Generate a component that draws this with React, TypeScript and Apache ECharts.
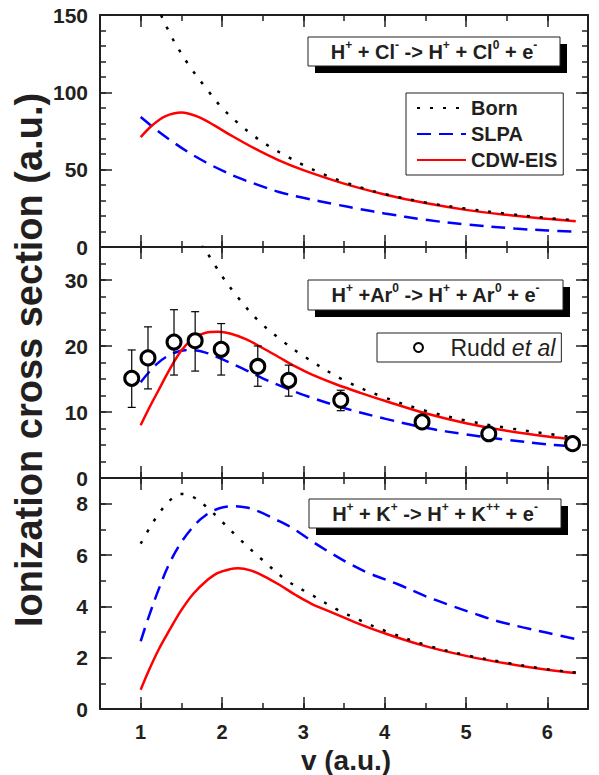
import React, { useEffect, useRef } from 'react';
import * as echarts from 'echarts';

const FONT = '"Liberation Sans", Arial, Helvetica, sans-serif';
const INK = '#231f20';

// x axis (v in a.u.)
const xMin = 0.5;
const xMax = 6.5;
const xMinorStep = 0.5;
const xMajorTicks = [1, 2, 3, 4, 5, 6];

// Panel 1: H+ + Cl-
const clBorn = [[1.25, 150], [1.4, 134], [1.6, 117], [1.8, 103], [2.0, 90], [2.2, 80], [2.4, 71.5], [2.6, 64.5], [2.8, 58.5], [3.0, 53], [3.25, 47], [3.5, 42], [3.75, 37.8], [4.0, 34.2], [4.5, 28.8], [5.0, 24.8], [5.5, 21.5], [6.0, 18.8], [6.35, 17.2]];
const clSlpa = [[1.0, 84], [1.2, 75.5], [1.4, 67.8], [1.6, 60.8], [1.8, 54.8], [2.0, 49.5], [2.2, 44.8], [2.45, 40.0], [2.7, 35.6], [3.0, 31.8], [3.4, 27.5], [3.7, 24.5], [4.0, 21.7], [4.5, 17.6], [5.0, 14.6], [5.6, 11.9], [6.0, 10.7], [6.35, 9.9]];
const clCdw = [[1.0, 71], [1.15, 79], [1.3, 84.5], [1.5, 87], [1.7, 84.3], [1.9, 78.8], [2.1, 72.5], [2.4, 63.7], [2.7, 56], [3.0, 49.7], [3.5, 41], [4.0, 34], [4.5, 28.4], [5.0, 24], [5.5, 20.8], [6.0, 18.2], [6.35, 16.6]];

// Panel 2: H+ + Ar0
const arBorn = [[1.75, 35.5], [2.0, 30.6], [2.2, 27.3], [2.45, 23.8], [2.75, 20.7], [3.0, 18.5], [3.5, 14.8], [4.0, 12.2], [4.5, 10.2], [5.0, 8.7], [5.5, 7.6], [6.0, 6.7], [6.35, 6.1]];
const arSlpa = [[1.0, 14.5], [1.2, 17.3], [1.4, 18.9], [1.6, 19.4], [1.8, 19.0], [2.0, 18.0], [2.25, 16.6], [2.5, 15.1], [2.75, 13.8], [3.0, 12.6], [3.5, 10.6], [4.0, 9.0], [4.5, 7.6], [5.0, 6.6], [5.5, 5.8], [6.0, 5.1], [6.35, 4.75]];
const arCdw = [[1.0, 8.0], [1.1, 10.5], [1.22, 13.3], [1.35, 16.3], [1.5, 19.3], [1.65, 21.2], [1.8, 22.0], [1.95, 22.15], [2.1, 21.9], [2.3, 21.0], [2.5, 19.7], [2.7, 18.3], [2.9, 16.9], [3.1, 15.7], [3.4, 14.2], [3.7, 12.9], [4.0, 11.7], [4.5, 9.8], [5.0, 8.3], [5.5, 7.15], [6.0, 6.3], [6.35, 5.85]];

// Rudd et al experimental points
const ruddV = [0.89, 1.09, 1.41, 1.67, 1.99, 2.44, 2.82, 3.46, 4.46, 5.28, 6.31];
const ruddY = [15.1, 18.2, 20.6, 20.8, 19.5, 16.9, 14.8, 11.8, 8.5, 6.7, 5.2];
const ruddLo = [10.7, 13.5, 15.6, 16.2, 15.6, 13.9, 12.4, 10.2, 8.0, 6.3, 4.9];
const ruddHi = [19.4, 22.9, 25.5, 25.2, 23.4, 20.0, 17.1, 13.3, 9.0, 7.1, 5.5];

// Panel 3: H+ + K+
const kBorn = [[1.0, 6.44], [1.1, 7.0], [1.2, 7.5], [1.35, 8.1], [1.5, 8.38], [1.65, 8.25], [1.8, 7.9], [2.0, 7.3], [2.2, 6.67], [2.5, 5.8], [2.8, 5.0], [3.1, 4.45], [3.4, 3.9], [3.7, 3.45], [4.0, 3.05], [4.5, 2.5], [5.0, 2.1], [5.5, 1.8], [6.0, 1.55], [6.35, 1.42]];
const kSlpa = [[1.0, 2.64], [1.1, 3.6], [1.22, 4.65], [1.35, 5.65], [1.5, 6.5], [1.67, 7.19], [1.8, 7.55], [1.95, 7.8], [2.12, 7.9], [2.3, 7.85], [2.45, 7.7], [2.65, 7.4], [2.86, 7.06], [3.1, 6.55], [3.3, 6.15], [3.55, 5.69], [3.8, 5.3], [4.17, 4.85], [4.5, 4.4], [4.78, 4.07], [5.1, 3.72], [5.39, 3.42], [5.7, 3.18], [6.0, 2.97], [6.35, 2.72]];
const kCdw = [[1.0, 0.75], [1.1, 1.5], [1.22, 2.31], [1.35, 3.05], [1.5, 3.85], [1.65, 4.5], [1.8, 4.97], [1.95, 5.3], [2.1, 5.45], [2.2, 5.48], [2.35, 5.4], [2.5, 5.2], [2.7, 4.85], [2.9, 4.45], [3.1, 4.1], [3.4, 3.7], [3.7, 3.3], [4.0, 2.95], [4.5, 2.45], [5.0, 2.07], [5.5, 1.77], [6.0, 1.53], [6.35, 1.4]];

const seriesNames = ['Born', 'SLPA', 'CDW-EIS'];
const ruddName = 'Rudd et al';

const reactionCl = '{n|H}{s|+}{n| + Cl}{s|-}{n| -> H}{s|+}{n| + Cl}{s|0}{n| + e}{s|-}';
const reactionAr = '{n|H}{s|+}{n| +Ar}{s|0}{n| -> H}{s|+}{n| + Ar}{s|0}{n| + e}{s|-}';
const reactionK = '{n|H}{s|+}{n| + K}{s|+}{n| -> H}{s|+}{n| + K}{s|++}{n| + e}{s|-}';

const yTitle = 'Ionization cross section (a.u.)';
const xTitle = 'v (a.u.)';

const panels = [
  { top: 15, height: 232, yMax: 150, yMinor: 10, yMajor: 50, born: clBorn, slpa: clSlpa, cdw: clCdw },
  { top: 247, height: 231, yMax: 35, yMinor: 2.5, yMajor: 10, born: arBorn, slpa: arSlpa, cdw: arCdw },
  { top: 478, height: 231, yMax: 9, yMinor: 1, yMajor: 2, born: kBorn, slpa: kSlpa, cdw: kCdw },
];

const labelStyle = { fontSize: 20, fontWeight: 'bold', fontFamily: FONT, color: INK };

function buildOption() {
  const grids: any[] = [];
  const xAxes: any[] = [];
  const yAxes: any[] = [];
  const series: any[] = [];

  panels.forEach((p, i) => {
    grids.push({ left: 100, width: 488, top: p.top, height: p.height, containLabel: false });
    (['bottom', 'top'] as const).forEach((pos) => {
      xAxes.push({
        gridIndex: i, type: 'value', position: pos, min: xMin, max: xMax, interval: xMinorStep,
        axisLine: { show: true, onZero: false, lineStyle: { color: INK, width: 2 } },
        axisTick: { show: true, inside: true, length: 6, lineStyle: { color: INK, width: 1.5 } },
        axisLabel: pos === 'bottom' && i === 2
          ? { ...labelStyle, margin: 13, formatter: (v: number) => (Number.isInteger(v) ? String(v) : '') }
          : { show: false },
        splitLine: { show: false },
      });
      xAxes.push({
        gridIndex: i, type: 'value', position: pos, min: xMin, max: xMax, interval: xMinorStep,
        axisLine: { show: false, onZero: false },
        axisTick: { show: true, inside: true, length: 12, customValues: xMajorTicks, lineStyle: { color: INK, width: 1.5 } },
        axisLabel: { show: false },
        splitLine: { show: false },
      });
    });
    (['left', 'right'] as const).forEach((pos) => {
      yAxes.push({
        gridIndex: i, type: 'value', position: pos, min: 0, max: p.yMax, interval: p.yMinor,
        axisLine: { show: true, onZero: false, lineStyle: { color: INK, width: 2 } },
        axisTick: { show: true, inside: true, length: 6, lineStyle: { color: INK, width: 1.5 } },
        axisLabel: pos === 'left'
          ? { ...labelStyle, fontSize: 21, margin: 12, formatter: (v: number) => (Math.abs(v % p.yMajor) < 1e-9 ? String(v) : '') }
          : { show: false },
        splitLine: { show: false },
      });
      yAxes.push({
        gridIndex: i, type: 'value', position: pos, min: 0, max: p.yMax, interval: p.yMajor,
        axisLine: { show: false, onZero: false },
        axisTick: { show: true, inside: true, length: 12, lineStyle: { color: INK, width: 1.5 } },
        axisLabel: { show: false },
        splitLine: { show: false },
      });
    });

    const ax = i * 4;
    series.push({
      name: 'SLPA', type: 'line', xAxisIndex: ax, yAxisIndex: ax, data: p.slpa, smooth: 0.35,
      showSymbol: false, symbol: 'none', z: 2,
      lineStyle: { color: '#0000ff', width: 2.5, type: [14, 8] }, itemStyle: { color: '#0000ff' },
    });
    series.push({
      name: 'CDW-EIS', type: 'line', xAxisIndex: ax, yAxisIndex: ax, data: p.cdw, smooth: 0.35,
      showSymbol: false, symbol: 'none', z: 3,
      lineStyle: { color: '#ff0000', width: 2.5, type: 'solid' }, itemStyle: { color: '#ff0000' },
    });
    series.push({
      name: 'Born', type: 'line', xAxisIndex: ax, yAxisIndex: ax, data: p.born, smooth: 0.35,
      showSymbol: false, symbol: 'none', z: 4,
      lineStyle: { color: '#000000', width: 2.5, type: [3, 10] }, itemStyle: { color: '#000000' },
    });
  });

  // Rudd et al error bars and points (panel 2)
  series.push({
    type: 'custom', xAxisIndex: 4, yAxisIndex: 4, z: 5, silent: true,
    data: ruddV.map((v, k) => [v, ruddLo[k], ruddHi[k]]),
    encode: { x: 0, y: [1, 2] },
    renderItem: (params: any, api: any) => {
      const x = api.value(0);
      const lo = api.coord([x, api.value(1)]);
      const hi = api.coord([x, api.value(2)]);
      const w = 4;
      const st = { stroke: '#000', lineWidth: 1.2 };
      return {
        type: 'group',
        children: [
          { type: 'line', shape: { x1: lo[0], y1: lo[1], x2: hi[0], y2: hi[1] }, style: st },
          { type: 'line', shape: { x1: hi[0] - w, y1: hi[1], x2: hi[0] + w, y2: hi[1] }, style: st },
          { type: 'line', shape: { x1: lo[0] - w, y1: lo[1], x2: lo[0] + w, y2: lo[1] }, style: st },
        ],
      };
    },
  });
  series.push({
    name: ruddName, type: 'scatter', xAxisIndex: 4, yAxisIndex: 4, z: 6,
    data: ruddV.map((v, k) => [v, ruddY[k]]),
    symbol: 'circle', symbolSize: 14,
    itemStyle: { color: '#ffffff', borderColor: '#000000', borderWidth: 3, opacity: 1 },
  });

  const rich = {
    n: { fontSize: 20, fontWeight: 'bold', fontFamily: FONT, fill: INK, color: INK, lineHeight: 26 },
    s: { fontSize: 12, fontWeight: 'bold', fontFamily: FONT, fill: INK, color: INK, lineHeight: 11, verticalAlign: 'top' },
  };
  const box = (x: number, y: number, w: number, h: number, text: string) => ({
    type: 'group',
    children: [
      { type: 'rect', shape: { x: x + 7, y: y + 7, width: w, height: h }, style: { fill: '#000' }, z: 10 },
      { type: 'rect', shape: { x, y, width: w, height: h }, style: { fill: '#fff', stroke: INK, lineWidth: 1 }, z: 11 },
      {
        type: 'text', x: x + w / 2, y: y + h / 2, z: 12,
        style: { text, rich, align: 'center', verticalAlign: 'middle', textAlign: 'center', textVerticalAlign: 'middle' },
      },
    ],
  });

  const graphic = [
    box(308, 37, 252, 29, reactionCl),
    box(308, 280, 255, 30, reactionAr),
    box(309, 499, 252, 29, reactionK),
    {
      type: 'text', x: 29, y: 360, rotation: Math.PI / 2, z: 20,
      style: { text: yTitle, font: `bold 38px ${FONT}`, fill: INK, align: 'center', verticalAlign: 'middle', textAlign: 'center', textVerticalAlign: 'middle' },
    },
    {
      type: 'text', x: 346, y: 760, z: 20,
      style: { text: xTitle, font: `bold 28px ${FONT}`, fill: INK, align: 'center', verticalAlign: 'middle', textAlign: 'center', textVerticalAlign: 'middle' },
    },
  ];

  return {
    animation: false,
    backgroundColor: '#ffffff',
    grid: grids,
    xAxis: xAxes,
    yAxis: yAxes,
    series,
    graphic,
    legend: [
      {
        data: seriesNames, orient: 'vertical', left: 406, top: 93, selectedMode: false,
        itemWidth: 49, itemHeight: 14, itemGap: 6, padding: [5, 6, 5, 10],
        backgroundColor: '#ffffff', borderColor: INK, borderWidth: 1, borderRadius: 0,
        itemStyle: { color: 'rgba(0,0,0,0)', borderWidth: 0, opacity: 0 },
        textStyle: { fontSize: 20, fontWeight: 'bold', fontFamily: FONT, color: INK },
      },
      {
        data: [{ name: ruddName, itemStyle: { color: '#ffffff', borderColor: '#000000', borderWidth: 2 } }],
        orient: 'vertical', left: 377, top: 333, selectedMode: false,
        itemWidth: 54, itemHeight: 9, padding: [3, 6, 3, 36],
        backgroundColor: '#ffffff', borderColor: INK, borderWidth: 1, borderRadius: 0,
        formatter: () => '{r|Rudd }{i|et al}',
        textStyle: {
          fontSize: 23, fontFamily: FONT, color: INK,
          rich: {
            r: { fontSize: 23, fontFamily: FONT, color: INK },
            i: { fontSize: 23, fontFamily: FONT, color: INK, fontStyle: 'italic' },
          },
        },
      },
    ],
  };
}

export default function App() {
  const ref = useRef<HTMLDivElement>(null);
  useEffect(() => {
    if (!ref.current) return;
    const chart = echarts.init(ref.current, null, { renderer: 'svg' });
    chart.setOption(buildOption() as any);
    return () => chart.dispose();
  }, []);
  return (
    <div
      ref={ref}
      style={{ position: 'absolute', left: 0, top: 0, width: 599, height: 775, background: '#fff' }}
    />
  );
}
